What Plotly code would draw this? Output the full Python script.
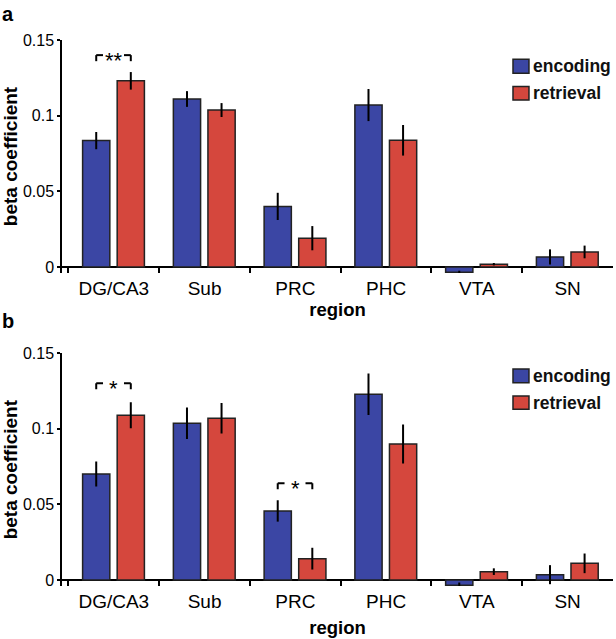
import plotly.graph_objects as go

# ---------------- data ----------------
regions = ["DG/CA3", "Sub", "PRC", "PHC", "VTA", "SN"]

enc_a = [0.0835, 0.111, 0.040, 0.107, -0.0035, 0.0066]
enc_a_err = [0.0057, 0.0052, 0.0090, 0.0106, 0.0010, 0.0050]
ret_a = [0.123, 0.1037, 0.019, 0.0837, 0.0018, 0.0099]
ret_a_err = [0.0058, 0.0046, 0.0080, 0.0101, 0.0008, 0.0042]

enc_b = [0.0701, 0.1037, 0.0457, 0.1229, -0.0035, 0.0035]
enc_b_err = [0.0083, 0.0105, 0.0071, 0.0137, 0.0018, 0.0063]
ret_b = [0.109, 0.107, 0.0141, 0.090, 0.0055, 0.011]
ret_b_err = [0.0086, 0.0101, 0.0072, 0.0129, 0.0022, 0.0065]

y_tickvals = [0, 0.05, 0.1, 0.15]
y_ticktext = ["0", "0.05", "0.1", "0.15"]

series_names = ["encoding", "retrieval"]

# significance brackets: (panel, region index, bracket top value, label)
sig_brackets = [
    ("a", 0, 0.1400, "**"),
    ("b", 0, 0.1302, "*"),
    ("b", 2, 0.0640, "*"),
]

# ---------------- style ----------------
BLUE = "#3b46a4"
RED = "#d5473d"
EDGE = "#222222"
FONT = "Liberation Sans, Arial, sans-serif"
BAR_W = 0.30
OFF_ENC = -0.344
OFF_RET = 0.037

fig = go.Figure()

panels = [
    ("x", "y", enc_a, enc_a_err, ret_a, ret_a_err),
    ("x2", "y2", enc_b, enc_b_err, ret_b, ret_b_err),
]
for xa, ya, e, ee, r, re_ in panels:
    for name, vals, errs, col, off in [
        (series_names[0], e, ee, BLUE, OFF_ENC),
        (series_names[1], r, re_, RED, OFF_RET),
    ]:
        fig.add_trace(go.Bar(
            x=regions, y=vals, name=name, xaxis=xa, yaxis=ya,
            width=BAR_W, offset=off,
            marker=dict(color=col, line=dict(color=EDGE, width=1.5)),
            error_y=dict(type="data", array=errs, color="black",
                         thickness=2, width=0),
            showlegend=False,
        ))


def xaxis_cfg(standoff):
    return dict(
        type="category", categoryorder="array", categoryarray=regions,
        range=[-0.571, 5.5], tickson="boundaries",
        ticks="inside", ticklen=6, tickwidth=1.5, tickcolor="black",
        showline=False, showgrid=False, zeroline=False,
        tickfont=dict(family=FONT, size=19, color="black"),
        ticklabelstandoff=2, automargin=False,
        title=dict(text="<b>region</b>",
                   font=dict(family=FONT, size=18.5, color="black"),
                   standoff=standoff),
    )


ycommon = dict(
    range=[-0.004, 0.15], tickvals=y_tickvals, ticktext=y_ticktext,
    ticks="outside", ticklen=3, tickwidth=1.5, tickcolor="black",
    showline=True, linecolor="black", linewidth=1.5,
    zeroline=True, zerolinecolor="black", zerolinewidth=1.5,
    showgrid=False, automargin=False,
    tickfont=dict(family=FONT, size=16, color="black"),
    title=dict(text="<b>beta coefficient</b>",
               font=dict(family=FONT, size=19, color="black"), standoff=6),
)

fig.update_layout(
    width=616, height=639,
    margin=dict(l=62, r=3, t=40, b=53),
    paper_bgcolor="white", plot_bgcolor="white",
    barmode="overlay",
    showlegend=False,
    xaxis=dict(anchor="y", domain=[0, 1], **xaxis_cfg(5)),
    xaxis2=dict(anchor="y2", domain=[0, 1], **xaxis_cfg(10)),
    yaxis=dict(anchor="x", domain=[0.5733, 1.0], **ycommon),
    yaxis2=dict(anchor="x2", domain=[0.0, 0.4262], **ycommon),
)

# significance brackets
seg = 0.075
dy = 0.004
for panel, idx, ytop, label in sig_brackets:
    xr, yr = ("x", "y") if panel == "a" else ("x2", "y2")
    xl = idx + OFF_ENC + BAR_W / 2
    xrr = idx + OFF_RET + BAR_W / 2
    line = dict(color="black", width=2)
    for x0, x1, y0, y1 in [
        (xl, xl, ytop - dy, ytop), (xl, xl + seg, ytop, ytop),
        (xrr, xrr, ytop - dy, ytop), (xrr - seg, xrr, ytop, ytop),
    ]:
        fig.add_shape(type="line", xref=xr, yref=yr, x0=x0, x1=x1,
                      y0=y0, y1=y1, line=line)
    fig.add_annotation(xref=xr, yref=yr, x=(xl + xrr) / 2, y=ytop,
                       text=label, showarrow=False, yanchor="middle",
                       yshift=-5,
                       font=dict(family=FONT, size=22, color="black"))

# manual legends (square + label), in axis-domain coordinates
legend_pos = {
    "y": [(0.917, 0.857, 0.887), (0.800, 0.742, 0.771)],
    "y2": [(0.9325, 0.8737, 0.9033), (0.8165, 0.7594, 0.7877)],
}
for xr, yr in [("x", "y"), ("x2", "y2")]:
    for (top, bot, mid), name, col in zip(legend_pos[yr], series_names, [BLUE, RED]):
        fig.add_shape(type="rect", xref=f"{xr} domain", yref=f"{yr} domain",
                      x0=0.8185, x1=0.8475, y0=bot, y1=top,
                      fillcolor=col, line=dict(color=EDGE, width=1.5))
        fig.add_annotation(xref=f"{xr} domain", yref=f"{yr} domain",
                           x=0.852, y=mid, xanchor="left", yanchor="middle",
                           text=f"<b>{name}</b>", showarrow=False,
                           font=dict(family=FONT, size=17.5, color="#111"))

# panel letters
for letter, yv in [("a", 1.0476), ("b", 0.4853)]:
    fig.add_annotation(xref="paper", yref="paper", x=-0.1125, y=yv,
                       xanchor="left", yanchor="middle", text=f"<b>{letter}</b>",
                       showarrow=False, font=dict(family=FONT, size=20, color="black"))

fig.write_html("out.html", config={"displayModeBar": False},
               post_script="document.body.style.margin='0';")
